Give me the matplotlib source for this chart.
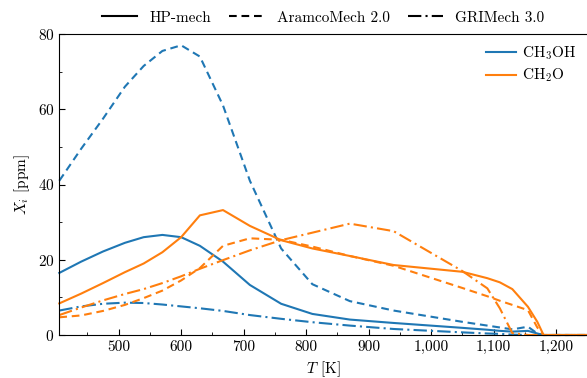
import matplotlib
matplotlib.use("Agg")
import matplotlib.pyplot as plt
from matplotlib.ticker import MultipleLocator, FuncFormatter
from matplotlib.lines import Line2D

plt.rcParams['font.family'] = 'serif'
plt.rcParams['font.serif'] = ['cmr10']
plt.rcParams['mathtext.fontset'] = 'cm'
plt.rcParams['axes.unicode_minus'] = False
plt.rcParams['axes.formatter.use_mathtext'] = True
plt.rcParams['lines.dashed_pattern'] = [3.7, 2.3]
plt.rcParams['lines.dashdot_pattern'] = [6.4, 2.0, 1.0, 2.0]

T = [405, 440, 475, 510, 540, 570, 600, 630, 667, 710, 760, 810, 870, 940,
     1050, 1090, 1110, 1130, 1155, 1170, 1180, 1250]

ch3oh_hp = [16.5, 19.5, 22.2, 24.5, 26.0, 26.6, 26.0, 23.7, 19.5, 13.3, 8.3, 5.6,
            4.1, 3.2, 1.9, 1.4, 1.1, 0.9, 1.1, 0.4, 0.0, 0.0]
ch3oh_aramco = [41.0, 49.5, 57.5, 66.0, 71.5, 75.5, 77.0, 74.0, 61.0, 41.0, 23.0, 13.5,
                9.0, 6.5, 3.5, 2.5, 2.0, 1.5, 2.2, 0.4, 0.0, 0.0]
ch3oh_gri = [6.5, 7.6, 8.3, 8.6, 8.5, 8.1, 7.6, 7.1, 6.4, 5.3, 4.3, 3.4,
             2.5, 1.6, 0.7, 0.4, 0.3, 0.1, 0.0, 0.0, 0.0, 0.0]
ch2o_hp = [8.4, 11.0, 13.8, 16.7, 19.0, 22.0, 26.0, 31.8, 33.2, 29.0, 25.2, 23.0,
           21.0, 18.6, 16.8, 15.1, 14.0, 12.2, 7.5, 3.5, 0.0, 0.0]
ch2o_aramco = [4.7, 5.2, 6.4, 8.0, 9.8, 11.8, 14.5, 17.8, 23.7, 25.7, 25.3, 23.5,
               21.0, 18.4, 12.5, 10.3, 9.1, 8.0, 6.6, 2.0, 0.0, 0.0]
ch2o_gri = [5.3, 7.3, 9.2, 10.9, 12.2, 13.8, 15.6, 17.6, 19.9, 22.5, 25.2, 27.2,
            29.6, 27.6, 17.0, 12.4, 7.1, 0.5, 0.0, 0.0, 0.0, 0.0]

species = ['CH$_3$OH', 'CH$_2$O']
mechanisms = ['HP-mech', 'AramcoMech 2.0', 'GRIMech 3.0']
styles = ['-', '--', '-.']
colors = ['#1f77b4', '#ff7f0e']

data = {
    'CH$_3$OH': [ch3oh_hp, ch3oh_aramco, ch3oh_gri],
    'CH$_2$O': [ch2o_hp, ch2o_aramco, ch2o_gri],
}

fig = plt.figure(figsize=(5.87, 3.78), dpi=100)
ax = fig.add_axes([59.3 / 587, 43 / 378, 528 / 587, 301 / 378])

for sp, c in zip(species, colors):
    for series, ls in zip(data[sp], styles):
        ax.plot(T, series, color=c, ls=ls, lw=1.5, clip_on=False)

ax.set_xlim(405, 1250)
ax.set_ylim(0, 80)
ax.spines['right'].set_visible(False)
ax.xaxis.set_major_locator(MultipleLocator(100))
ax.xaxis.set_minor_locator(MultipleLocator(50))
ax.yaxis.set_major_locator(MultipleLocator(20))
ax.yaxis.set_minor_locator(MultipleLocator(10))
ax.xaxis.set_major_formatter(FuncFormatter(lambda v, p: f'{v:,.0f}'))
ax.tick_params(which='both', direction='in', top=False, right=False, labelsize=11)
ax.tick_params(which='major', length=4)
ax.tick_params(which='minor', length=2.5)
ax.set_xlabel('$T$ [K]', fontsize=11)
ax.set_ylabel('$X_i$ [ppm]', fontsize=11)

sp_handles = [Line2D([], [], color=c, lw=1.5) for c in colors]
leg1 = ax.legend(sp_handles, species, loc='upper right', frameon=False, fontsize=11,
                 handlelength=2.0, handletextpad=0.4, borderaxespad=0.3, labelspacing=0.3)
ax.add_artist(leg1)

mech_handles = [Line2D([], [], color='black', ls=ls, lw=1.5) for ls in styles]
ax.legend(mech_handles, mechanisms, loc='lower center', bbox_to_anchor=(0.5, 1.0),
          ncol=3, frameon=False, fontsize=11, handlelength=2.3, handletextpad=0.8,
          columnspacing=1.2, borderaxespad=0.2)

fig.savefig('out.png', dpi=100)
